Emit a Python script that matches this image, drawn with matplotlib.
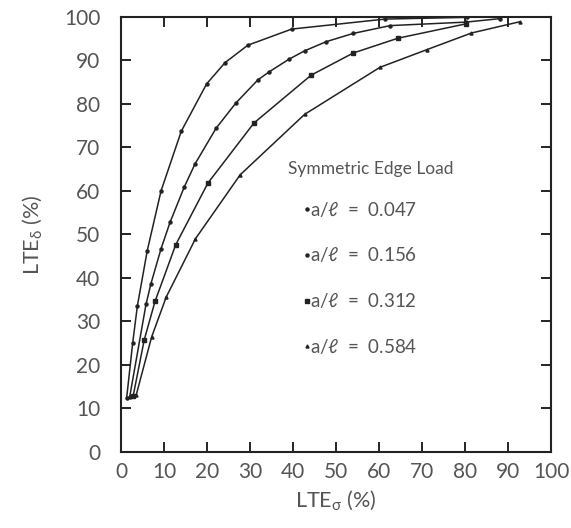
import numpy as np
import matplotlib.pyplot as plt

plt.rcParams['font.family'] = ['Lato', 'DejaVu Sans']
plt.rcParams['mathtext.default'] = 'regular'

# LTE_sigma (x) and LTE_delta (y) for each a/l ratio
x1 = [1.3, 2.7, 3.8, 6.1, 9.3, 14.0, 19.9, 24.2, 29.5, 39.7, 61.4, 80.5]
y1 = [12.4, 25.0, 33.6, 46.3, 60.0, 73.7, 84.6, 89.5, 93.5, 97.2, 99.5, 99.9]

x2 = [2.0, 5.8, 6.9, 9.3, 11.4, 14.7, 17.2, 22.1, 26.7, 31.8, 34.5, 39.1, 42.7, 47.7, 54.0, 62.6, 80.2, 88.1]
y2 = [12.6, 33.9, 38.5, 46.7, 52.8, 60.9, 66.2, 74.4, 80.2, 85.5, 87.4, 90.3, 92.2, 94.3, 96.2, 98.0, 98.8, 99.6]

x3 = [2.8, 5.4, 7.9, 12.7, 20.2, 30.9, 44.2, 54.0, 64.4, 80.2]
y3 = [12.8, 25.8, 34.6, 47.6, 61.8, 75.6, 86.6, 91.7, 95.1, 98.4]

x4 = [3.5, 7.1, 10.5, 17.3, 27.7, 42.7, 60.2, 71.2, 81.5, 92.8]
y4 = [13.0, 26.4, 35.6, 49.0, 63.7, 77.6, 88.4, 92.5, 96.3, 98.9]

ratios = ["0.047", "0.156", "0.312", "0.584"]
markers = ["o", "o", "s", "^"]

fig = plt.figure(figsize=(5.71, 5.28), dpi=100)
ax = fig.add_axes([0.212, 0.144, 0.753, 0.824])

for xs, ys, m in zip([x1, x2, x3, x4], [y1, y2, y3, y4], markers):
    ax.plot(xs, ys, color="#222222", lw=1.1, marker=m, ms=2.2)

ax.set_xlim(0, 100)
ax.set_ylim(0, 100)
ax.set_xticks(np.arange(0, 101, 10))
ax.set_yticks(np.arange(0, 101, 10))
ax.tick_params(direction="in", length=7, width=1.2, top=True, right=True,
               labelsize=15, labelcolor="#555555")
ax.tick_params(axis="x", pad=7)
ax.tick_params(axis="y", pad=15)
for s in ax.spines.values():
    s.set_linewidth(1.5)
    s.set_color("#222222")

ax.set_xlabel(r"LTE$_{\sigma}$ (%)", fontsize=15.5, color="#555555", labelpad=5)
ax.set_ylabel(r"LTE$_{\delta}$ (%)", fontsize=15.5, color="#555555", labelpad=14)

# in-plot legend text
ax.text(38.8, 65, "Symmetric Edge Load", fontsize=12.5, color="#555555", va="center")
for i, (r, m) in enumerate(zip(ratios, markers)):
    yy = 55.8 - i * 10.5
    ax.plot([43.3], [yy], marker=m, ms=2.2, color="#222222")
    ax.text(44.0, yy, r"a/$\ell$  =  " + r, fontsize=13.5, color="#555555", va="center")

plt.savefig("out.png", dpi=100)
